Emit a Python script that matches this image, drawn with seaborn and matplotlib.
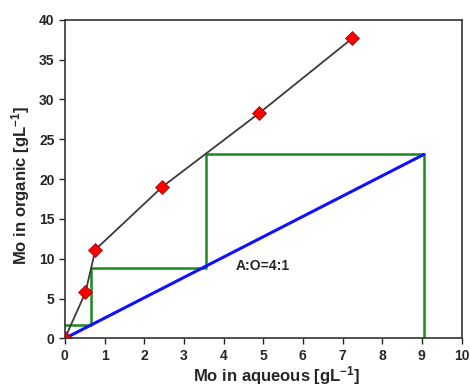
import matplotlib
matplotlib.use("Agg")
import matplotlib.pyplot as plt
import pandas as pd
import seaborn as sns

# Equilibrium isotherm (Mo in aqueous vs organic)
aq = [0, 0.52, 0.77, 2.46, 4.89, 7.25]
org = [0, 5.78, 11.15, 19.05, 28.25, 37.7]

# Operating line A:O = 4:1
op_x = [0, 9.05]
op_y = [0, 23.1]

# McCabe-Thiele stages
step_x = [9.05, 9.05, 3.57, 3.57, 0.66, 0.66, 0]
step_y = [0, 23.1, 23.1, 8.9, 8.9, 1.66, 1.66]

sns.set_style("ticks")
plt.rcParams['font.family'] = ['Liberation Sans', 'DejaVu Sans']
plt.rcParams['font.weight'] = 'bold'
plt.rcParams['mathtext.fontset'] = 'custom'
plt.rcParams['mathtext.rm'] = 'Liberation Sans:bold'
plt.rcParams['mathtext.bf'] = 'Liberation Sans:bold'
plt.rcParams['mathtext.default'] = 'bf'

fig, ax = plt.subplots(figsize=(4.7, 3.89), dpi=100)
fig.subplots_adjust(left=0.138, right=0.982, bottom=0.130, top=0.949)

df_steps = pd.DataFrame({'x': step_x, 'y': step_y})
sns.lineplot(data=df_steps, x='x', y='y', sort=False, estimator=None,
             color='#1a8a1a', linewidth=1.8, ax=ax)

df_op = pd.DataFrame({'x': op_x, 'y': op_y})
sns.lineplot(data=df_op, x='x', y='y', sort=False, estimator=None,
             color='#1010ff', linewidth=2.2, ax=ax)

df_iso = pd.DataFrame({'x': aq, 'y': org})
sns.lineplot(data=df_iso, x='x', y='y', sort=False, estimator=None,
             color='#3a3a3a', linewidth=1.3,
             marker='D', markersize=7, markerfacecolor='red', markeredgecolor='#8b0000',
             markeredgewidth=0.5, ax=ax)

ax.text(5.0, 9.1, 'A:O=4:1', fontsize=10, fontweight='bold', ha='center', va='center')

ax.set_xlim(0, 10)
ax.set_ylim(0, 40)
ax.set_xticks(range(0, 11))
ax.set_yticks(range(0, 41, 5))
ax.tick_params(direction='out', length=4, width=1, labelsize=10)
for lab in ax.get_xticklabels() + ax.get_yticklabels():
    lab.set_fontweight('bold')

for s in ax.spines.values():
    s.set_visible(True)
    s.set_linewidth(1.2)
    s.set_color('#333333')

ax.set_xlabel('Mo in aqueous [gL$^{-1}$]', fontsize=12, fontweight='bold')
ax.set_ylabel('Mo in organic [gL$^{-1}$]', fontsize=12, fontweight='bold')
ax.xaxis.set_label_coords(0.533, -0.082)
ax.yaxis.set_label_coords(-0.084, 0.48)

fig.savefig('out.png', dpi=100)
